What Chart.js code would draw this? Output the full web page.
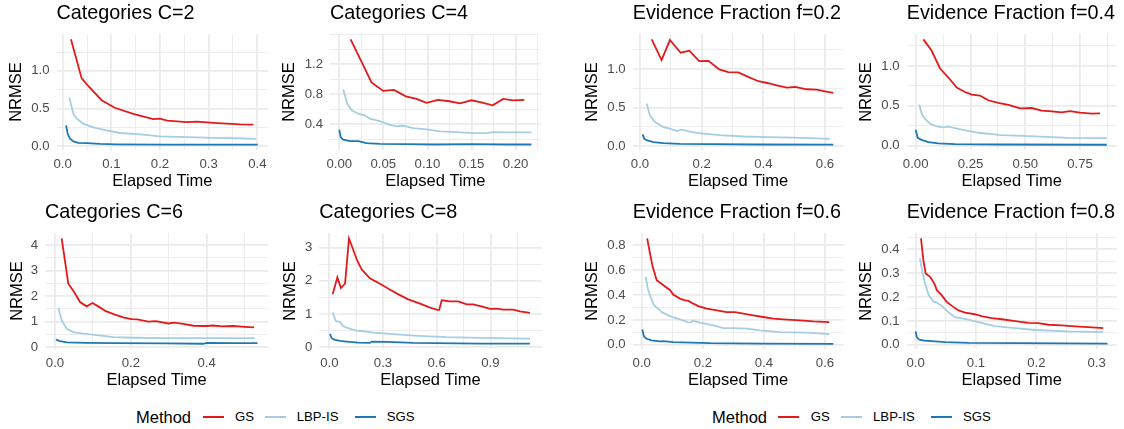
<!DOCTYPE html>
<html>
<head>
<meta charset="utf-8">
<script src="https://cdn.jsdelivr.net/npm/chart.js@4.4.1/dist/chart.umd.min.js"></script>
<style>
  html, body { margin: 0; padding: 0; background: #fff; }
  body { width: 1124px; height: 429px; position: relative; overflow: hidden;
         font-family: "Liberation Sans", Arial, sans-serif; }
  canvas { position: absolute; }
  .lg { position: absolute; white-space: nowrap; line-height: 1; transform: translateY(-50%); color: #000; }
  .sw { position: absolute; height: 2px; }
</style>
</head>
<body>
<script>
// ---- Methods ----
const METHODS = ['GS', 'LBP-IS', 'SGS'];

// ---- Categories C=2 : [elapsed time, NRMSE] ----
const C2_GS  = [[0.017,1.42],[0.039,0.90],[0.051,0.81],[0.080,0.61],[0.107,0.51],[0.145,0.43],[0.186,0.36],[0.200,0.365],[0.215,0.34],[0.255,0.32],[0.276,0.325],[0.310,0.31],[0.337,0.30],[0.365,0.29],[0.392,0.285]];
const C2_LBP = [[0.0137,0.645],[0.022,0.43],[0.029,0.365],[0.042,0.30],[0.063,0.25],[0.09,0.21],[0.118,0.175],[0.159,0.157],[0.2,0.13],[0.255,0.12],[0.31,0.11],[0.35,0.105],[0.397,0.098]];
const C2_SGS = [[0.007,0.276],[0.0103,0.165],[0.015,0.098],[0.022,0.063],[0.032,0.045],[0.05,0.04],[0.077,0.03],[0.11,0.025],[0.21,0.02],[0.401,0.02]];

// ---- Categories C=4 ----
const C4_GS  = [[0.0129,1.53],[0.0366,0.956],[0.0498,0.845],[0.062,0.858],[0.0755,0.773],[0.0876,0.738],[0.099,0.685],[0.112,0.725],[0.125,0.707],[0.137,0.68],[0.150,0.72],[0.161,0.693],[0.174,0.653],[0.186,0.738],[0.197,0.72],[0.210,0.725]];
const C4_LBP = [[0.0045,0.862],[0.009,0.676],[0.014,0.587],[0.0215,0.542],[0.029,0.52],[0.0347,0.476],[0.046,0.444],[0.0555,0.40],[0.065,0.373],[0.0725,0.382],[0.0838,0.351],[0.099,0.333],[0.114,0.307],[0.133,0.298],[0.152,0.284],[0.167,0.284],[0.174,0.298],[0.193,0.293],[0.218,0.293]];
const C4_SGS = [[0.0,0.329],[0.0016,0.231],[0.0045,0.196],[0.012,0.178],[0.0215,0.178],[0.025,0.169],[0.031,0.151],[0.046,0.142],[0.0725,0.138],[0.11,0.133],[0.148,0.138],[0.186,0.133],[0.218,0.133]];

// ---- Categories C=6 ----
const C6_GS  = [[0.0176,4.27],[0.035,2.49],[0.05,2.17],[0.066,1.77],[0.0835,1.60],[0.099,1.73],[0.114,1.60],[0.134,1.41],[0.158,1.28],[0.182,1.16],[0.202,1.10],[0.217,1.09],[0.246,1.0],[0.266,1.02],[0.299,0.93],[0.314,0.96],[0.338,0.91],[0.365,0.84],[0.398,0.83],[0.417,0.85],[0.44,0.815],[0.47,0.83],[0.501,0.80],[0.525,0.776]];
const C6_LBP = [[0.0088,1.55],[0.0176,1.05],[0.031,0.724],[0.048,0.59],[0.075,0.53],[0.11,0.47],[0.154,0.394],[0.207,0.37],[0.295,0.354],[0.382,0.354],[0.527,0.354]];
const C6_SGS = [[0.0026,0.303],[0.013,0.236],[0.031,0.185],[0.083,0.173],[0.162,0.157],[0.295,0.146],[0.391,0.134],[0.4,0.165],[0.47,0.157],[0.534,0.157]];

// ---- Categories C=8 ----
const C8_GS  = [[0.019,1.59],[0.045,2.10],[0.065,1.78],[0.088,1.91],[0.11,3.27],[0.131,2.97],[0.156,2.60],[0.181,2.34],[0.205,2.20],[0.227,2.07],[0.265,1.96],[0.293,1.88],[0.33,1.76],[0.386,1.59],[0.441,1.44],[0.507,1.31],[0.563,1.19],[0.603,1.12],[0.614,1.12],[0.628,1.41],[0.674,1.38],[0.72,1.38],[0.768,1.29],[0.804,1.29],[0.86,1.21],[0.898,1.15],[0.935,1.16],[0.972,1.13],[1.028,1.13],[1.065,1.08],[1.121,1.03]];
const C8_LBP = [[0.019,1.04],[0.037,0.78],[0.06,0.76],[0.078,0.63],[0.116,0.55],[0.153,0.50],[0.19,0.48],[0.246,0.44],[0.339,0.40],[0.47,0.35],[0.656,0.30],[0.842,0.28],[1.121,0.26]];
const C8_SGS = [[0.004,0.40],[0.013,0.27],[0.032,0.22],[0.06,0.19],[0.097,0.17],[0.162,0.14],[0.227,0.13],[0.237,0.17],[0.32,0.16],[0.47,0.13],[0.842,0.11],[1.121,0.11]];

// ---- Evidence Fraction f=0.2 ----
const F2_GS  = [[0.038,1.387],[0.070,1.117],[0.097,1.378],[0.132,1.213],[0.160,1.239],[0.192,1.104],[0.222,1.108],[0.257,0.996],[0.286,0.961],[0.319,0.957],[0.351,0.9],[0.384,0.843],[0.416,0.817],[0.443,0.791],[0.476,0.761],[0.503,0.77],[0.541,0.739],[0.573,0.735],[0.600,0.713],[0.627,0.691]];
const F2_LBP = [[0.0216,0.553],[0.032,0.40],[0.0487,0.313],[0.0757,0.248],[0.097,0.227],[0.119,0.196],[0.135,0.214],[0.168,0.183],[0.205,0.162],[0.259,0.143],[0.335,0.126],[0.411,0.117],[0.497,0.11],[0.616,0.096]];
const F2_SGS = [[0.0087,0.153],[0.014,0.096],[0.0237,0.074],[0.043,0.052],[0.076,0.039],[0.13,0.031],[0.227,0.027],[0.389,0.022],[0.627,0.02]];

// ---- Evidence Fraction f=0.4 ----
const F4_GS  = [[0.035,1.333],[0.073,1.19],[0.111,0.968],[0.157,0.83],[0.187,0.729],[0.225,0.674],[0.256,0.641],[0.293,0.629],[0.331,0.57],[0.377,0.536],[0.423,0.511],[0.476,0.469],[0.529,0.473],[0.575,0.44],[0.621,0.431],[0.666,0.419],[0.704,0.435],[0.75,0.415],[0.803,0.403],[0.841,0.406]];
const F4_LBP = [[0.0164,0.516],[0.027,0.403],[0.042,0.34],[0.065,0.277],[0.096,0.243],[0.126,0.23],[0.149,0.239],[0.21,0.201],[0.286,0.163],[0.392,0.133],[0.545,0.117],[0.697,0.1],[0.872,0.096]];
const F4_SGS = [[0.0,0.201],[0.009,0.1],[0.027,0.075],[0.058,0.045],[0.103,0.029],[0.179,0.02],[0.392,0.016],[0.872,0.013]];

// ---- Evidence Fraction f=0.6 ----
const F6_GS  = [[0.018,0.855],[0.027,0.734],[0.036,0.626],[0.049,0.519],[0.071,0.478],[0.093,0.438],[0.103,0.403],[0.125,0.371],[0.142,0.357],[0.153,0.352],[0.169,0.33],[0.185,0.311],[0.213,0.29],[0.246,0.277],[0.278,0.263],[0.305,0.263],[0.333,0.25],[0.365,0.236],[0.398,0.223],[0.431,0.21],[0.475,0.202],[0.518,0.196],[0.562,0.188],[0.614,0.182]];
const F6_LBP = [[0.013,0.545],[0.02,0.452],[0.029,0.384],[0.04,0.317],[0.051,0.296],[0.065,0.263],[0.082,0.242],[0.103,0.22],[0.125,0.204],[0.151,0.182],[0.162,0.18],[0.166,0.194],[0.191,0.177],[0.235,0.156],[0.267,0.134],[0.3,0.134],[0.344,0.129],[0.387,0.115],[0.453,0.102],[0.54,0.097],[0.614,0.086]];
const F6_SGS = [[0.002,0.123],[0.0075,0.067],[0.016,0.048],[0.032,0.035],[0.06,0.027],[0.071,0.03],[0.103,0.022],[0.224,0.013],[0.387,0.01],[0.627,0.008]];

// ---- Evidence Fraction f=0.8 ----
const F8_GS  = [[0.0088,0.446],[0.0127,0.355],[0.0166,0.299],[0.0237,0.285],[0.0276,0.271],[0.032,0.25],[0.035,0.229],[0.043,0.208],[0.0514,0.18],[0.06,0.163],[0.071,0.144],[0.082,0.135],[0.098,0.128],[0.109,0.12],[0.126,0.112],[0.143,0.107],[0.165,0.099],[0.187,0.092],[0.203,0.091],[0.22,0.084],[0.242,0.081],[0.264,0.077],[0.286,0.074],[0.311,0.07]];
const F8_LBP = [[0.007,0.362],[0.011,0.306],[0.015,0.264],[0.021,0.211],[0.029,0.182],[0.035,0.177],[0.043,0.163],[0.054,0.137],[0.065,0.116],[0.082,0.109],[0.104,0.095],[0.131,0.078],[0.165,0.07],[0.198,0.062],[0.253,0.056],[0.311,0.053]];
const F8_SGS = [[0.0,0.056],[0.0017,0.032],[0.0055,0.022],[0.013,0.018],[0.027,0.015],[0.049,0.011],[0.088,0.008],[0.17,0.007],[0.318,0.005]];

// ---- Tick values and labels ----
const X_TICKS_C2 = [0, 0.1, 0.2, 0.3, 0.4];        const X_LABELS_C2 = ['0.0','0.1','0.2','0.3','0.4'];
const Y_TICKS_C2 = [0, 0.5, 1.0];                   const Y_LABELS_C2 = ['0.0','0.5','1.0'];
const X_TICKS_C4 = [0, 0.05, 0.10, 0.15, 0.20];     const X_LABELS_C4 = ['0.00','0.05','0.10','0.15','0.20'];
const Y_TICKS_C4 = [0.4, 0.8, 1.2];                 const Y_LABELS_C4 = ['0.4','0.8','1.2'];
const X_TICKS_C6 = [0, 0.2, 0.4];                   const X_LABELS_C6 = ['0.0','0.2','0.4'];
const Y_TICKS_C6 = [0, 1, 2, 3, 4];                 const Y_LABELS_C6 = ['0','1','2','3','4'];
const X_TICKS_C8 = [0, 0.3, 0.6, 0.9];              const X_LABELS_C8 = ['0.0','0.3','0.6','0.9'];
const Y_TICKS_C8 = [0, 1, 2, 3];                    const Y_LABELS_C8 = ['0','1','2','3'];
const X_TICKS_F2 = [0, 0.2, 0.4, 0.6];              const X_LABELS_F2 = ['0.0','0.2','0.4','0.6'];
const Y_TICKS_F2 = [0, 0.5, 1.0];                   const Y_LABELS_F2 = ['0.0','0.5','1.0'];
const X_TICKS_F4 = [0, 0.25, 0.5, 0.75];            const X_LABELS_F4 = ['0.00','0.25','0.50','0.75'];
const Y_TICKS_F4 = [0, 0.5, 1.0];                   const Y_LABELS_F4 = ['0.0','0.5','1.0'];
const X_TICKS_F6 = [0, 0.2, 0.4, 0.6];              const X_LABELS_F6 = ['0.0','0.2','0.4','0.6'];
const Y_TICKS_F6 = [0, 0.2, 0.4, 0.6, 0.8];         const Y_LABELS_F6 = ['0.0','0.2','0.4','0.6','0.8'];
const X_TICKS_F8 = [0, 0.1, 0.2, 0.3];              const X_LABELS_F8 = ['0.0','0.1','0.2','0.3'];
const Y_TICKS_F8 = [0, 0.1, 0.2, 0.3, 0.4];         const Y_LABELS_F8 = ['0.0','0.1','0.2','0.3','0.4'];

// ---- Panel setup: series, ticks, axis ranges and plot boxes (page px) ----
const PANELS = [
  { title: 'Categories C=2', series: [C2_GS, C2_LBP, C2_SGS], xt: X_TICKS_C2, xl: X_LABELS_C2, yt: Y_TICKS_C2, yl: Y_LABELS_C2,
    x: [-0.0127, 0.4226], y: [-0.0507, 1.4893], box: { l: 56.5, t: 34, r: 268.3, b: 149.5, ay: 16.7 } },
  { title: 'Categories C=4', series: [C4_GS, C4_LBP, C4_SGS], xt: X_TICKS_C4, xl: X_LABELS_C4, yt: Y_TICKS_C4, yl: Y_LABELS_C4,
    x: [-0.0105, 0.2285], y: [0.060, 1.600], box: { l: 330, t: 34, r: 540.7, b: 149.5, ay: 290.3 } },
  { title: 'Evidence Fraction f=0.2', series: [F2_GS, F2_LBP, F2_SGS], xt: X_TICKS_F2, xl: X_LABELS_F2, yt: Y_TICKS_F2, yl: Y_LABELS_F2,
    x: [-0.0237, 0.6601], y: [-0.0495, 1.4563], box: { l: 632.7, t: 34, r: 843.5, b: 149.5, ay: 593 } },
  { title: 'Evidence Fraction f=0.4', series: [F4_GS, F4_LBP, F4_SGS], xt: X_TICKS_F4, xl: X_LABELS_F4, yt: Y_TICKS_F4, yl: Y_LABELS_F4,
    x: [-0.0411, 0.9174], y: [-0.0528, 1.400], box: { l: 906.7, t: 34, r: 1116.7, b: 149.5, ay: 867.2 } },
  { title: 'Categories C=6', series: [C6_GS, C6_LBP, C6_SGS], xt: X_TICKS_C6, xl: X_LABELS_C6, yt: Y_TICKS_C6, yl: Y_LABELS_C6,
    x: [-0.0264, 0.5625], y: [-0.0709, 4.476], box: { l: 45, t: 233, r: 268.3, b: 348.5, ay: 17.8 } },
  { title: 'Categories C=8', series: [C8_GS, C8_LBP, C8_SGS], xt: X_TICKS_C8, xl: X_LABELS_C8, yt: Y_TICKS_C8, yl: Y_LABELS_C8,
    x: [-0.0559, 1.1866], y: [-0.0544, 3.435], box: { l: 319.3, t: 233, r: 541.7, b: 348.5, ay: 291.2 } },
  { title: 'Evidence Fraction f=0.6', series: [F6_GS, F6_LBP, F6_SGS], xt: X_TICKS_F6, xl: X_LABELS_F6, yt: Y_TICKS_F6, yl: Y_LABELS_F6,
    x: [-0.0295, 0.6605], y: [-0.0339, 0.8976], box: { l: 632.7, t: 233, r: 843.5, b: 348.5, ay: 593 } },
  { title: 'Evidence Fraction f=0.8', series: [F8_GS, F8_LBP, F8_SGS], xt: X_TICKS_F8, xl: X_LABELS_F8, yt: Y_TICKS_F8, yl: Y_LABELS_F8,
    x: [-0.0149, 0.3333], y: [-0.0177, 0.4686], box: { l: 906.7, t: 233, r: 1116.7, b: 348.5, ay: 867 } }
];

// ---- Styling ----
const FONT = '"Liberation Sans", Arial, sans-serif';
const LINE_COLORS = { 'GS': '#E31A1C', 'LBP-IS': '#A6CEE3', 'SGS': '#1F78B4' };
const DRAW_ORDER  = { 'GS': 2, 'LBP-IS': 1, 'SGS': 0 };
const GRID = '#EBEBEB';
const TITLE_H = 34, XAXIS_H = 45, RIGHT_PAD = 6;

Chart.defaults.font.family = FONT;

// Major ticks plus minor ticks halfway between them, kept inside the axis range
function gridValues(major, min, max) {
  const step = major.length > 1 ? major[1] - major[0] : 1;
  const out = [];
  const first = major[0] - step, last = major[major.length - 1] + step;
  for (let v = first; v <= last + 1e-9; v += step / 2) {
    const r = Math.round(v * 1e6) / 1e6;
    if (r >= min - 1e-9 && r <= max + 1e-9) out.push(r);
  }
  return out;
}
const isMajor = (v, major) => major.some(m => Math.abs(m - v) < 1e-6);
const labelFor = (v, major, labels) => {
  const i = major.findIndex(m => Math.abs(m - v) < 1e-6);
  return i >= 0 ? labels[i] : '';
};

function axis(p, which) {
  const major = which === 'x' ? p.xt : p.yt;
  const labels = which === 'x' ? p.xl : p.yl;
  const [min, max] = which === 'x' ? p.x : p.y;
  const cfg = {
    type: 'linear', min, max,
    afterBuildTicks: s => { s.ticks = gridValues(major, min, max).map(v => ({ value: v })); },
    grid: {
      color: GRID,
      lineWidth: c => (c.tick && isMajor(c.tick.value, major)) ? 1.8 : 0.9,
      drawTicks: false
    },
    border: { display: false },
    ticks: {
      autoSkip: false, maxRotation: 0, minRotation: 0,
      color: '#4D4D4D', font: { size: 13.2 },
      callback: v => labelFor(v, major, labels)
    },
    title: { display: true, color: '#000', font: { size: 16.5 } }
  };
  if (which === 'x') {
    cfg.afterFit = s => { s.height = XAXIS_H; };
    cfg.ticks.padding = 6.5;
    cfg.title.text = 'Elapsed Time';
    cfg.title.padding = { top: 0, bottom: 4 };
  } else {
    cfg.afterFit = s => { s.width = p._yw; };
    cfg.ticks.padding = 7;
    cfg.title.text = 'NRMSE';
    cfg.title.padding = { top: 2, bottom: 0 };
  }
  return cfg;
}

PANELS.forEach(p => {
  const b = p.box;
  const left = Math.round(b.ay - 11.9);
  const top = Math.round(b.t - TITLE_H);
  const width = Math.round(b.r + RIGHT_PAD - left);
  const height = Math.round(b.b + XAXIS_H - top);
  p._yw = b.l - left;

  const cv = document.createElement('canvas');
  cv.width = width; cv.height = height;
  cv.style.left = left + 'px'; cv.style.top = top + 'px';
  cv.style.width = width + 'px'; cv.style.height = height + 'px';
  document.body.appendChild(cv);

  new Chart(cv, {
    type: 'line',
    data: {
      datasets: METHODS.map((m, i) => ({
        label: m,
        data: p.series[i].map(([x, y]) => ({ x, y })),
        borderColor: LINE_COLORS[m],
        borderWidth: 1.8,
        pointRadius: 0,
        tension: 0,
        fill: false,
        order: DRAW_ORDER[m]
      }))
    },
    options: {
      responsive: false,
      animation: false,
      devicePixelRatio: 1,
      events: [],
      layout: { padding: { left: 0, top: 0, right: width - (b.r - left), bottom: 0 } },
      scales: { x: axis(p, 'x'), y: axis(p, 'y') },
      plugins: {
        legend: { display: false },
        tooltip: { enabled: false },
        title: {
          display: true, text: p.title, align: 'start', fullSize: false,
          color: '#000', font: { size: 19.8, weight: 'normal' },
          padding: { top: TITLE_H - 23.76 - 8.3, bottom: 8.3 }
        }
      }
    }
  });
});

// ---- Legends under each half ----
const LEGENDS = [
  { title: 136, keys: [202.7, 265, 355], text: [235, 296.7, 386.7] },
  { title: 712, keys: [778, 841, 930.7], text: [810.7, 873, 963] }
];
const LEGEND_Y = 416.7;
LEGENDS.forEach(L => {
  const t = document.createElement('div');
  t.className = 'lg'; t.textContent = 'Method';
  t.style.left = L.title + 'px'; t.style.top = LEGEND_Y + 'px'; t.style.fontSize = '16.5px';
  document.body.appendChild(t);
  METHODS.forEach((m, i) => {
    const s = document.createElement('div');
    s.className = 'sw';
    s.style.left = L.keys[i] + 'px'; s.style.width = '21.3px';
    s.style.top = (LEGEND_Y - 1) + 'px'; s.style.background = LINE_COLORS[m];
    document.body.appendChild(s);
    const d = document.createElement('div');
    d.className = 'lg'; d.textContent = m;
    d.style.left = L.text[i] + 'px'; d.style.top = LEGEND_Y + 'px'; d.style.fontSize = '13.2px';
    document.body.appendChild(d);
  });
});
</script>
</body>
</html>
